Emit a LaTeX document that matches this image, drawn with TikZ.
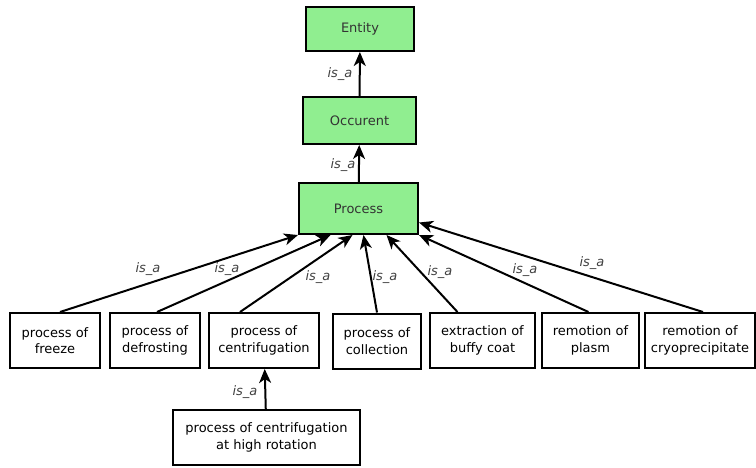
\documentclass[tikz,border=0pt]{standalone}
\usepackage{fontspec}
\setmainfont{DejaVu Sans}
\usepackage{xcolor}
\usetikzlibrary{arrows.meta}
\definecolor{boxgreen}{RGB}{144,238,144}

\begin{document}
\begin{tikzpicture}[x=1pt, y=-1pt,
        >={Stealth[length=14pt, width=12pt, inset=4pt]},
        every node/.style={font=\fontsize{13pt}{16.5pt}\selectfont},
        cls/.style={draw, line width=2pt, fill=boxgreen, text=black!80},
        leaf/.style={draw, line width=2pt, align=center, minimum height=55pt, inner sep=1pt},
        isa/.style={->, line width=2pt},
        lbl/.style={font=\fontsize{13pt}{16.5pt}\selectfont\itshape, text=black!75}]
                        \useasboundingbox (0,0) rectangle (756,467);

                        \node[cls, minimum width=108pt, minimum height=44pt] (entity) at (360, 29){Entity};
                        \node[cls, minimum width=113pt, minimum height=47pt] (occurent) at (359.5, 120.5){Occurent};
                        \node[cls, minimum width=119pt, minimum height=51pt] (process) at (358.5, 208.5){Process};

                        \node[leaf, minimum width=90pt] (freeze) at (55, 340.5){process of\\freeze};
                        \node[leaf, minimum width=90pt] (defrost) at (155, 340.5){process of\\defrosting};
                        \node[leaf, minimum width=110pt] (centrif) at (264, 340.5){process of\\centrifugation};
                        \node[leaf, minimum width=88pt] (collect) at (377, 341){process of\\collection};
                        \node[leaf, minimum width=105pt] (buffy) at (482.5, 340.5){extraction of\\buffy coat};
                        \node[leaf, minimum width=97pt] (plasm) at (590.5, 340.5){remotion of\\plasm};
                        \node[leaf, minimum width=110pt] (cryo) at (700, 340.5){remotion of\\cryoprecipitate};
                        \node[leaf, minimum width=187pt] (highrot) at (266.5, 437.5){process of centrifugation\\at high rotation};

                        \draw[isa] (occurent) -- (entity);
                        \draw[isa] (process) -- (occurent);
                        \draw[isa] ([xshift=5pt]freeze.north) -- (process.south west);
                        \draw[isa] ([xshift=2pt]defrost.north) -- ([xshift=-28pt]process.south);
                        \draw[isa] ([xshift=-24pt]centrif.north) -- ([xshift=-6pt]process.south);
                        \draw[isa] (collect.north) -- ([xshift=5pt]process.south);
                        \draw[isa] ([xshift=-25pt]buffy.north) -- ([xshift=28pt]process.south);
                        \draw[isa] ([xshift=-2pt]plasm.north) -- (process.south east);
                        \draw[isa] ([xshift=3pt]cryo.north) -- ([yshift=-14pt]process.east);
                        \draw[isa] (highrot) -- (centrif);

                        \node[lbl] (l1) at (340, 74){is\_a};
                        \node[lbl] (l2) at (343, 165){is\_a};
                        \node[lbl] (l3) at (148, 269){is\_a};
                        \node[lbl] (l4) at (227, 269){is\_a};
                        \node[lbl] (l5) at (318, 277){is\_a};
                        \node[lbl] (l6) at (385, 277){is\_a};
                        \node[lbl] (l7) at (440, 272){is\_a};
                        \node[lbl] (l8) at (525, 270){is\_a};
                        \node[lbl] (l9) at (592, 263){is\_a};
                        \node[lbl] (l10) at (245, 392){is\_a};
                    \end{tikzpicture}
\end{document}
